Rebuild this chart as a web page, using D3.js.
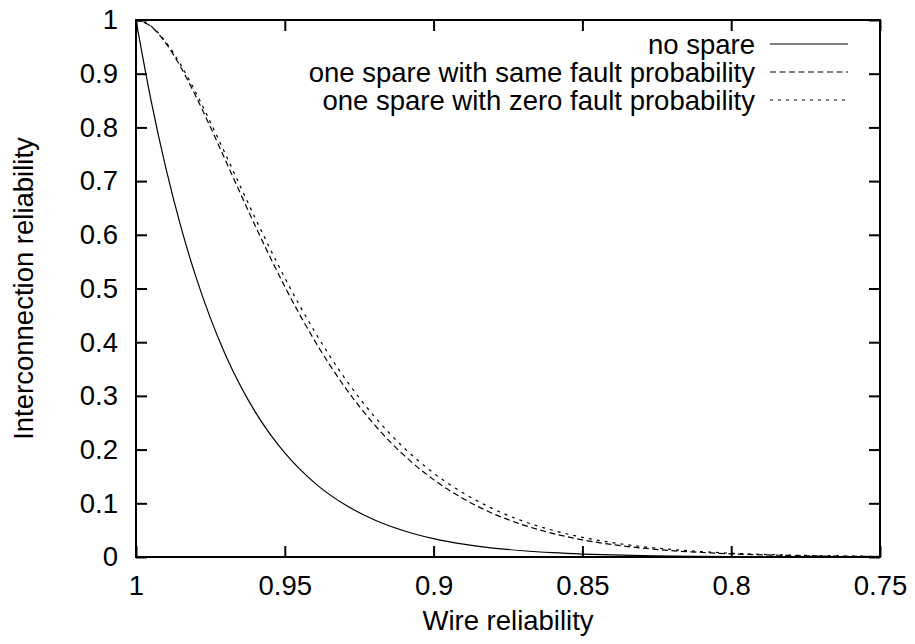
<!DOCTYPE html>
<html>
<head>
<meta charset="utf-8">
<script src="https://cdn.jsdelivr.net/npm/d3@7"></script>
<style>
  html, body { margin: 0; padding: 0; background: #fff; }
  svg { display: block; font-family: "Liberation Sans", Arial, Helvetica, sans-serif; }
</style>
</head>
<body>
<svg id="chart" width="915" height="644"></svg>
<script>
// Wire reliability sample points (x axis runs from 1 down to 0.75)
const wireReliability = [1, 0.995, 0.99, 0.985, 0.98, 0.975, 0.97, 0.965, 0.96, 0.955, 0.95,
  0.94, 0.93, 0.92, 0.91, 0.90, 0.89, 0.88, 0.87, 0.86, 0.85, 0.84, 0.83, 0.82, 0.81, 0.80,
  0.78, 0.76, 0.75];

// Interconnection reliability, no spare wire
const noSpare = [1, 0.8518, 0.7250, 0.6165, 0.5239, 0.4448, 0.3773, 0.3198, 0.2708, 0.2292, 0.1937,
  0.1381, 0.0981, 0.0694, 0.0489, 0.0343, 0.0240, 0.0167, 0.0116, 0.0080, 0.0055, 0.0038, 0.0026,
  0.0017, 0.0012, 0.0008, 0.00035, 0.00015, 0.0001];

// One spare wire that fails as often as the others
const spareSameFault = [1, 0.9881, 0.9570, 0.9125, 0.8592, 0.8007, 0.7395, 0.6780, 0.6175, 0.5592, 0.5036,
  0.4032, 0.3178, 0.2470, 0.1897, 0.1441, 0.1085, 0.0808, 0.0599, 0.0439, 0.0320, 0.0231, 0.0166,
  0.0118, 0.0084, 0.0059, 0.0028, 0.0013, 0.0009];

// One spare wire that never fails
const spareZeroFault = [1, 0.9888, 0.9593, 0.9169, 0.8660, 0.8098, 0.7507, 0.6910, 0.6319, 0.5748, 0.5199,
  0.4202, 0.3342, 0.2624, 0.2036, 0.1562, 0.1190, 0.0897, 0.0669, 0.0498, 0.0367, 0.0268, 0.0194,
  0.0140, 0.0100, 0.0071, 0.0035, 0.0017, 0.0012];

const xTicks = [1, 0.95, 0.9, 0.85, 0.8, 0.75];
const xTickLabels = ["1", "0.95", "0.9", "0.85", "0.8", "0.75"];
const yTicks = [0, 0.1, 0.2, 0.3, 0.4, 0.5, 0.6, 0.7, 0.8, 0.9, 1];
const yTickLabels = ["0", "0.1", "0.2", "0.3", "0.4", "0.5", "0.6", "0.7", "0.8", "0.9", "1"];

const seriesNames = ["no spare", "one spare with same fault probability", "one spare with zero fault probability"];

const plotLeft = 136, plotRight = 880, plotTop = 20, plotBottom = 557;
const fontSize = 27.5;
const tickLen = 11;

const svg = d3.select("#chart");
const x = d3.scaleLinear().domain([1, 0.75]).range([plotLeft, plotRight]);
const y = d3.scaleLinear().domain([0, 1]).range([plotBottom, plotTop]);

function styleAxis(g) {
  g.select(".domain").remove();
  g.selectAll(".tick line").attr("stroke", "#000").attr("stroke-width", 2);
  g.selectAll(".tick text").attr("fill", "#000").style("font-size", fontSize + "px")
    .attr("font-family", null);
}

// bottom axis with labels, inward ticks
svg.append("g").attr("transform", `translate(0,${plotBottom})`)
  .call(d3.axisBottom(x).tickValues(xTicks).tickFormat((d, i) => xTickLabels[i])
    .tickSizeInner(-tickLen).tickSizeOuter(0).tickPadding(18))
  .call(styleAxis);

// top mirror ticks
svg.append("g").attr("transform", `translate(0,${plotTop})`)
  .call(d3.axisTop(x).tickValues(xTicks).tickFormat("")
    .tickSizeInner(-tickLen).tickSizeOuter(0))
  .call(styleAxis);

// left axis with labels
svg.append("g").attr("transform", `translate(${plotLeft},0)`)
  .call(d3.axisLeft(y).tickValues(yTicks).tickFormat((d, i) => yTickLabels[i])
    .tickSizeInner(-tickLen).tickSizeOuter(0).tickPadding(18))
  .call(styleAxis);

// right mirror ticks
svg.append("g").attr("transform", `translate(${plotRight},0)`)
  .call(d3.axisRight(y).tickValues(yTicks).tickFormat("")
    .tickSizeInner(-tickLen).tickSizeOuter(0))
  .call(styleAxis);

// plot border
svg.append("rect")
  .attr("x", plotLeft).attr("y", plotTop)
  .attr("width", plotRight - plotLeft).attr("height", plotBottom - plotTop)
  .attr("fill", "none").attr("stroke", "#000").attr("stroke-width", 2);

const series = [
  { name: seriesNames[0], values: noSpare, dash: null },
  { name: seriesNames[1], values: spareSameFault, dash: "6,3.5" },
  { name: seriesNames[2], values: spareZeroFault, dash: "3,5" }
];

const line = d3.line()
  .x((d, i) => x(wireReliability[i]))
  .y(d => y(d))
  .curve(d3.curveMonotoneX);

svg.append("g").selectAll("path").data(series).join("path")
  .attr("d", s => line(s.values))
  .attr("fill", "none")
  .attr("stroke", "#000")
  .attr("stroke-width", 1.2)
  .attr("stroke-dasharray", s => s.dash);

// legend
const legend = svg.append("g");
const legendRows = legend.selectAll("g").data(series).join("g")
  .attr("transform", (d, i) => `translate(0,${44 + i * 28})`);
legendRows.append("text")
  .attr("x", 755).attr("dy", "0.35em")
  .attr("text-anchor", "end")
  .style("font-size", fontSize + "px")
  .text(d => d.name);
legendRows.append("line")
  .attr("x1", 770).attr("x2", 848)
  .attr("stroke", "#000").attr("stroke-width", 1.2)
  .attr("stroke-dasharray", d => d.dash);

// axis titles
svg.append("text")
  .attr("x", (plotLeft + plotRight) / 2).attr("y", 630)
  .attr("text-anchor", "middle")
  .style("font-size", fontSize + "px")
  .text("Wire reliability");

svg.append("text")
  .attr("transform", `translate(33,${(plotTop + plotBottom) / 2}) rotate(-90)`)
  .attr("text-anchor", "middle")
  .style("font-size", fontSize + "px")
  .text("Interconnection reliability");
</script>
</body>
</html>
